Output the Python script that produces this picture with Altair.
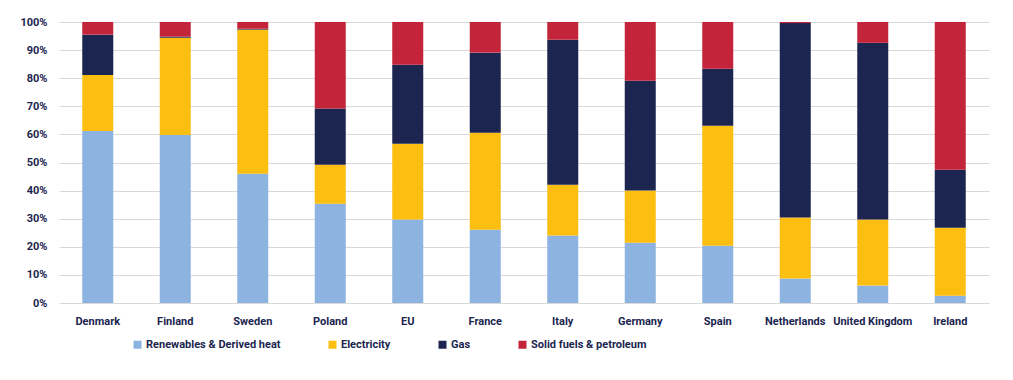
import altair as alt
import pandas as pd

countries = ["Denmark", "Finland", "Sweden", "Poland", "EU", "France", "Italy",
             "Germany", "Spain", "Netherlands", "United Kingdom", "Ireland"]
series = ["Renewables & Derived heat", "Electricity", "Gas", "Solid fuels & petroleum"]
renewables = [61.2, 59.8, 46.0, 35.3, 29.7, 26.1, 24.0, 21.4, 20.4, 8.7, 6.2, 2.6]
electricity = [19.9, 34.6, 51.3, 13.9, 27.0, 34.5, 18.1, 18.6, 42.7, 21.7, 23.5, 24.2]
gas = [14.4, 0.4, 0.3, 20.0, 28.1, 28.5, 51.6, 39.1, 20.3, 69.2, 62.9, 20.6]
solid = [4.5, 5.2, 2.4, 30.8, 15.2, 10.9, 6.3, 20.9, 16.6, 0.4, 7.4, 52.6]
colors = ["#8DB3E0", "#FDBE12", "#1B2550", "#C3243A"]

rows = []
for i, c in enumerate(countries):
    for j, (s, vals) in enumerate(zip(series, [renewables, electricity, gas, solid])):
        rows.append({"country": c, "series": s, "value": vals[i] / 100.0, "order": j})
df = pd.DataFrame(rows)

FONT = "Roboto"
TXT = "#1B2550"

chart = alt.Chart(df).mark_bar().encode(
    x=alt.X("country:N", sort=countries, title=None,
            scale=alt.Scale(paddingInner=0.6, paddingOuter=0.3),
            axis=alt.Axis(labelAngle=0, ticks=False, domain=False, labelPadding=12,
                          labelFont=FONT, labelFontSize=11, labelFontWeight="bold",
                          labelColor=TXT)),
    y=alt.Y("value:Q", stack="zero", title=None,
            scale=alt.Scale(domain=[0, 1], nice=False),
            axis=alt.Axis(format="%", values=[i / 10 for i in range(11)], ticks=False,
                          domain=False, grid=True, gridColor="#D9D9D9", gridWidth=1,
                          labelPadding=12, labelFont=FONT, labelFontSize=11,
                          labelFontWeight="bold", labelColor=TXT)),
    color=alt.Color("series:N", sort=series, title=None,
                    scale=alt.Scale(domain=series, range=colors),
                    legend=alt.Legend(orient="none", legendX=73, legendY=317,
                                      direction="horizontal", columns=4,
                                      symbolType="square", symbolSize=64,
                                      symbolStrokeWidth=0, symbolOffset=0,
                                      columnPadding=46, labelFont=FONT, labelLimit=300,
                                      labelFontSize=11, labelFontWeight="bold",
                                      labelColor=TXT, labelOffset=3)),
    order=alt.Order("order:Q", sort="ascending"),
).properties(
    width=930, height=281,
    background="white",
    autosize=alt.AutoSizeParams(type="none"),
    padding={"left": 51, "top": 14, "right": 16, "bottom": 69},
).configure_view(stroke=None)

chart.save("out.html", embed_options={"renderer": "svg", "actions": False})
